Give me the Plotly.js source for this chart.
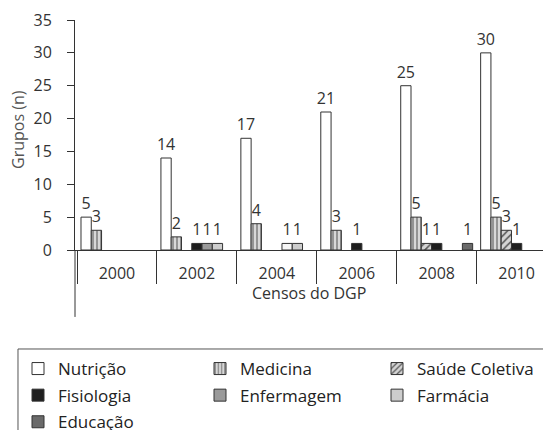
<!DOCTYPE html>
<html><head><meta charset="utf-8">
<script src="https://cdn.plot.ly/plotly-3.0.1.min.js"></script>
<style>html,body{margin:0;padding:0;background:#fff}#chart{width:543px;height:430px}</style>
</head><body><div id="chart"></div>
<script>
const years = ['2000','2002','2004','2006','2008','2010'];
const nutricao = [5,14,17,21,25,30];
const medicina = [3,2,4,3,5,5];
const saudeColetiva = [null,null,null,null,1,3];
const fisiologia = [null,1,null,1,1,1];
const enfermagem = [null,1,1,null,null,null];
const farmacia = [null,1,1,null,null,null];
const educacao = [null,null,null,null,1,null];

const FONT = 'Open Sans, Noto Sans, sans-serif';
const txt = {family: FONT, size: 16, color: '#333'};
const edge = {color: '#333', width: 1};

function bar(name, y, color, legend, pattern){
  const t = {type:'bar', name:name, x:years, y:y, legend:legend, legendgroup:name,
    marker:{color:color, line:edge},
    text:y.map(v=>v==null?'':String(v)), textposition:'outside',
    textfont:txt, constraintext:'none', cliponaxis:false, hoverinfo:'skip'};
  if(pattern) t.marker.pattern = pattern;
  return t;
}
const enfColors = years.map(y => y==='2004' ? '#f6f6f6' : '#9a9a9a');

const data = [
  bar('Nutrição', nutricao, '#ffffff', 'legend'),
  bar('Medicina', medicina, '#d0d0d0', 'legend2', {shape:'|', fgcolor:'#777', bgcolor:'#d8d8d8', size:4, solidity:0.35}),
  bar('Saúde Coletiva', saudeColetiva, '#cfcfcf', 'legend3', {shape:'/', fgcolor:'#555', bgcolor:'#d4d4d4', size:5, solidity:0.3}),
  bar('Fisiologia', fisiologia, '#1e1e1e', 'legend'),
  bar('Enfermagem', enfermagem, enfColors, 'legend2'),
  bar('Farmácia', farmacia, '#cdcdcd', 'legend3'),
  bar('Educação', educacao, '#6a6a6a', 'legend')
];

const legFont = {family: FONT, size: 17, color: '#222'};
const legBase = {bgcolor:'rgba(0,0,0,0)', borderwidth:0, font:legFont, xref:'container', yref:'container',
  yanchor:'top', xanchor:'left', traceorder:'grouped', tracegroupgap:1.5, y:1-351/430};

const layout = {
  width:543, height:430,
  margin:{l:75, r:0, t:20, b:180, autoexpand:false},
  paper_bgcolor:'#fff', plot_bgcolor:'#fff',
  barmode:'group', bargap:0.1, bargroupgap:0,
  font:{family:FONT, color:'#333'},
  showlegend:true,
  xaxis:{type:'category', range:[-0.525,5.33], tickson:'boundaries', ticks:'outside', ticklen:33, tickcolor:'#333', tickwidth:1,
    showline:true, linecolor:'#333', linewidth:1, showgrid:false, zeroline:false, automargin:false,
    tickfont:{family:FONT, size:16, color:'#333'}, ticklabelstandoff:9},
  yaxis:{range:[0,35], dtick:5, ticks:'outside', ticklen:7, tickcolor:'#333', showline:true, linecolor:'#333', linewidth:1,
    showgrid:false, zeroline:false, automargin:false, tickfont:{family:FONT, size:16, color:'#333'}, ticklabelstandoff:12},
  legend:Object.assign({}, legBase, {x:18/543}),
  legend2:Object.assign({}, legBase, {x:200/543}),
  legend3:Object.assign({}, legBase, {x:377/543}),
  annotations:[
    {text:'Censos do DGP', xref:'paper', yref:'paper', x:0.5, y:-43/230, xanchor:'center', yanchor:'middle', showarrow:false,
     font:{family:FONT, size:16, color:'#333'}},
    {text:'Grupos (n)', xref:'paper', yref:'paper', x:-57/468, y:120/230, xanchor:'center', yanchor:'middle', textangle:-90, showarrow:false,
     font:{family:FONT, size:16, color:'#555'}}
  ],
  shapes:[
    {type:'line', xref:'paper', yref:'paper', x0:0, x1:0, y0:0, y1:-0.291, line:{color:'#333', width:1}},
    {type:'rect', xref:'paper', yref:'paper', x0:-0.1218, x1:1.01, y0:-0.4304, y1:-0.9, line:{color:'#555', width:1}}
  ]
};
Plotly.newPlot('chart', data, layout, {staticPlot:true, displayModeBar:false});
</script></body></html>
